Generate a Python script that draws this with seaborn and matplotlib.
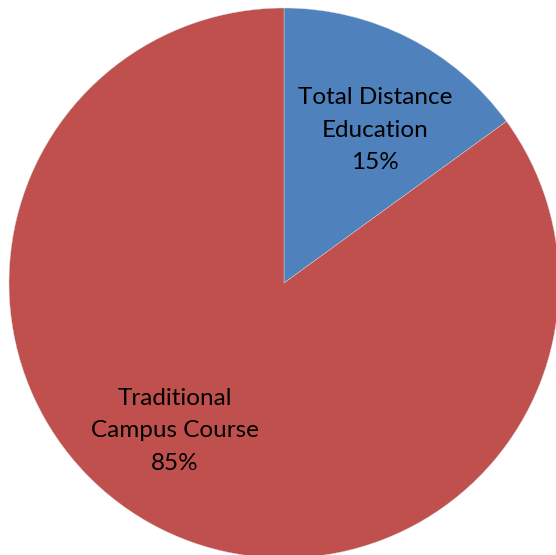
import matplotlib
matplotlib.use("Agg")
import matplotlib.pyplot as plt
import seaborn as sns

# data
categories = ["Total Distance\nEducation", "Traditional\nCampus Course"]
shares = [15, 85]
colors = ["#4F81BD", "#C0504D"]

sns.set_theme(style="white")
plt.rcParams['font.family'] = ['Lato', 'DejaVu Sans']

fig = plt.figure(figsize=(5.56, 5.55), dpi=100)
ax = fig.add_axes([0, 0, 1, 1])

wedges, _ = ax.pie(shares, colors=colors, startangle=90, counterclock=False,
                   radius=1.0, center=(0, 0),
                   wedgeprops=dict(edgecolor="#d8d8d8", linewidth=0.3))

# label placement (Excel "best fit"-like spots)
label_pos = [(0.331, 0.556), (-0.396, -0.538)]
for name, val, (lx, ly) in zip(categories, shares, label_pos):
    ax.text(lx, ly, f"{name}\n{val}%", ha="center", va="center",
            fontsize=17.5, color="black", linespacing=1.68)

ax.set_aspect("auto")
ax.set_xlim(-284 / 275, (556 - 284) / 275)
ax.set_ylim((283 - 555) / 275, 283 / 275)
ax.axis("off")

fig.savefig("out.png", dpi=100)
